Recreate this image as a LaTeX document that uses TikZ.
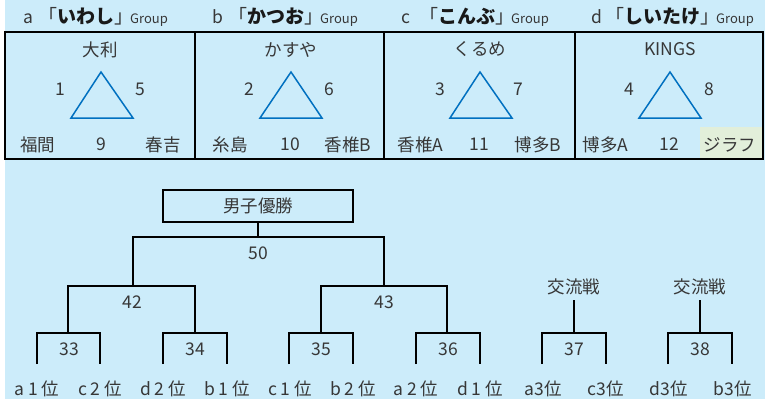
\documentclass[tikz,border=0pt]{standalone}
\usepackage{fontspec}
\setmainfont{Noto Sans CJK JP}
\newcommand{\grpword}{\hspace{-3.5pt}{\color{txtgray}\fontsize{13}{13}\selectfont\mdseries Group}}
\begin{document}
\begin{tikzpicture}[x=1pt,y=-1pt,
  txt/.style={inner sep=0pt,text=txtgray,font=\fontsize{17.5}{17.5}\selectfont},
  hdr/.style={inner sep=0pt,anchor=base,text=txtgray,font=\fontsize{17.5}{17.5}\selectfont},
  hdrk/.style={inner sep=0pt,anchor=base west,text=txtgray,font=\fontsize{19}{19}\selectfont},
  tri/.style={draw=triblue,line width=1.5pt,line join=miter},
  ln/.style={draw=black,line width=1.2pt},
  boxframe/.style={draw=black,line width=1.2pt}]
\definecolor{bgblue}{RGB}{204,236,250}
\definecolor{txtgray}{RGB}{55,55,55}
\definecolor{kanablack}{RGB}{25,25,25}
\definecolor{triblue}{RGB}{0,112,192}
\definecolor{lgreen}{RGB}{226,239,218}
\useasboundingbox (0,0) rectangle (766,399);
\fill[bgblue] (4.5,0) rectangle (764.5,399);
% headers
\node[hdr] (ha) at (28,23) {a};
\node[hdrk] (hak) at (38.5,23) {「{\color{kanablack}\bfseries いわし}」\grpword};
\node[hdr] (hb) at (218,23) {b};
\node[hdrk] (hbk) at (228.5,23) {「{\color{kanablack}\bfseries かつお}」\grpword};
\node[hdr] (hc) at (406,23) {c};
\node[hdrk] (hck) at (419.5,23) {「{\color{kanablack}\bfseries こんぶ}」\grpword};
\node[hdr] (hd) at (597,23) {d};
\node[hdrk] (hdk) at (605.5,23) {「{\color{kanablack}\bfseries しいたけ}」\grpword};
% green cell
\fill[lgreen] (700,127) rectangle (763,159);
% group boxes
\draw[boxframe] (5,32) rectangle (763,159);
\draw[boxframe] (195,32) -- (195,159);
\draw[boxframe] (384,32) -- (384,159);
\draw[boxframe] (575,32) -- (575,159);
% group a
\node[txt] (ta) at (100,49.5) {大利};
\draw[tri] (101,72) -- (133,118) -- (71,118) -- cycle;
\node[txt] (n1) at (60,89) {1};
\node[txt] (n5) at (140,89) {5};
\node[txt] (fk) at (37.5,144.5) {福間};
\node[txt] (n9) at (101,144.5) {9};
\node[txt] (hy) at (163,144.5) {春吉};
% group b
\node[txt] (tb) at (291,49.5) {かすや};
\draw[tri] (291,72) -- (322,118) -- (260,118) -- cycle;
\node[txt] (n2) at (249,89) {2};
\node[txt] (n6) at (329,89) {6};
\node[txt] (is) at (230,144.5) {糸島};
\node[txt] (n10) at (290,144.5) {10};
\node[txt] (kb) at (348,144.5) {香椎B};
% group c
\node[txt] (tc) at (480,49.5) {くるめ};
\draw[tri] (480,72) -- (512,118) -- (450,118) -- cycle;
\node[txt] (n3) at (440,89) {3};
\node[txt] (n7) at (518,89) {7};
\node[txt] (ka) at (420.5,144.5) {香椎A};
\node[txt] (n11) at (479,144.5) {11};
\node[txt] (hkb) at (538,144.5) {博多B};
% group d
\node[txt] (td) at (670,49.5) {KINGS};
\draw[tri] (670,72) -- (701,118) -- (639,118) -- cycle;
\node[txt] (n4) at (629,89) {4};
\node[txt] (n8) at (709,89) {8};
\node[txt] (hka) at (605.5,144.5) {博多A};
\node[txt] (n12) at (669,144.5) {12};
\node[txt] (jr) at (730,144.5) {ジラフ};
% final box
\node[draw=black,line width=1.2pt,minimum width=190pt,minimum height=32pt,inner sep=0pt,text=txtgray,font=\fontsize{17.5}{17.5}\selectfont] (win) at (258,206) {男子優勝};
% match numbers
\node[txt] (m50) at (258,253) {50};
\node[txt] (m42) at (132,302) {42};
\node[txt] (m43) at (384,302) {43};
\node[txt] (m33) at (69,349) {33};
\node[txt] (m34) at (195,349) {34};
\node[txt] (m35) at (321,349) {35};
\node[txt] (m36) at (448,349) {36};
\node[txt] (m37) at (574,349) {37};
\node[txt] (m38) at (700,349) {38};
\node[txt] (k1) at (574,286.5) {交流戦};
\node[txt] (k2) at (700,286.5) {交流戦};
% bottom labels
\node[txt] (l1) at (37,388.5) {a 1 位};
\node[txt] (l2) at (100,388.5) {c 2 位};
\node[txt] (l3) at (163,388.5) {d 2 位};
\node[txt] (l4) at (227,388.5) {b 1 位};
\node[txt] (l5) at (290,388.5) {c 1 位};
\node[txt] (l6) at (353,388.5) {b 2 位};
\node[txt] (l7) at (416,388.5) {a 2 位};
\node[txt] (l8) at (480,388.5) {d 1 位};
\node[txt] (l9) at (543,388.5) {a3位};
\node[txt] (l10) at (606,388.5) {c3位};
\node[txt] (l11) at (669,388.5) {d3位};
\node[txt] (l12) at (733,388.5) {b3位};
% tree coordinates
\coordinate (j50) at (258,237);
\coordinate (j42) at (133,286);
\coordinate (j43) at (384,286);
% tree lines
\draw[ln] (win.south) -- (j50);
\draw[ln] (j42) |- (j50) -| (j43);
\draw[ln] (68,333) |- (195,286) -- (195,333);
\draw[ln] (321,333) |- (447,286) -- (447,333);
\draw[ln] (37,364) |- (100,333) -- (100,364);
\draw[ln] (163,364) |- (227,333) -- (227,364);
\draw[ln] (289,364) |- (353,333) -- (353,364);
\draw[ln] (416,364) |- (480,333) -- (480,364);
\draw[ln] (542,364) |- (606,333) -- (606,364);
\draw[ln] (668,364) |- (732,333) -- (732,364);
\draw[ln] (574,300) -- (574,333);
\draw[ln] (700,300) -- (700,333);
\end{tikzpicture}
\end{document}
